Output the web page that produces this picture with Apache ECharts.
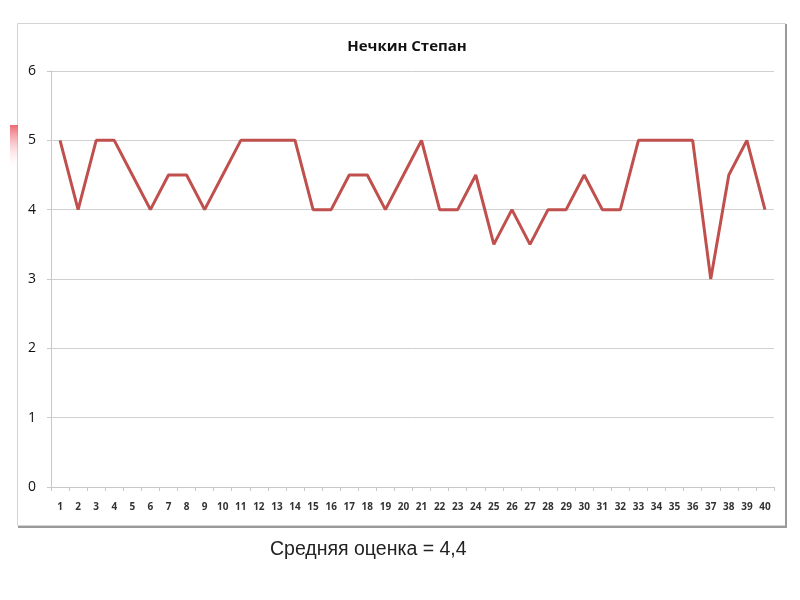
<!DOCTYPE html>
<html><head><meta charset="utf-8">
<script src="https://cdn.jsdelivr.net/npm/echarts@6/dist/echarts.min.js"></script>
<style>html,body{margin:0;padding:0;background:#fff}#c{width:800px;height:600px}</style>
</head><body><div id="c"></div>
<script>
const titleText = "Нечкин Степан";
const footerText = "Средняя оценка = 4,4";
const categories = ["1","2","3","4","5","6","7","8","9","10","11","12","13","14","15","16","17","18","19","20","21","22","23","24","25","26","27","28","29","30","31","32","33","34","35","36","37","38","39","40"];
const grades = [5,4,5,5,4.5,4,4.5,4.5,4,4.5,5,5,5,5,4,4,4.5,4.5,4,4.5,5,4,4,4.5,3.5,4,3.5,4,4,4.5,4,4,5,5,5,5,3,4.5,5,4];
const yTicks = [0,1,2,3,4,5,6];

const chart = echarts.init(document.getElementById('c'));
chart.setOption({
  animation:false,
  backgroundColor:'#fff',
  title:{text:titleText,left:402,textAlign:'center',top:34,textStyle:{fontFamily:'Open Sans',fontSize:15,fontWeight:'bold',color:'#111'}},
  graphic:[
    {type:'rect',shape:{x:17.5,y:23.5,width:768,height:502},style:{fill:'none',stroke:'#d4d4d4',lineWidth:1},z:-1},
    {type:'line',shape:{x1:786,y1:24,x2:786,y2:527},style:{stroke:'#9a9a9a',lineWidth:2}},
    {type:'line',shape:{x1:18,y1:527,x2:787,y2:527},style:{stroke:'#9a9a9a',lineWidth:2}},
    {type:'rect',shape:{x:10,y:125,width:8,height:42},style:{fill:new echarts.graphic.LinearGradient(0,0,0,1,[{offset:0,color:'rgba(235,90,100,0.9)'},{offset:1,color:'rgba(255,220,225,0)'}])}},
    {type:'text',left:270,top:540,style:{text:footerText,fontFamily:'Liberation Sans',fontSize:19.5,fill:'#222'}}
  ],
  grid:{left:51,right:26,top:71,bottom:113},
  xAxis:{type:'category',data:categories,boundaryGap:true,
    axisLine:{lineStyle:{color:'#c8c8c8'}},
    axisTick:{show:true,length:4,lineStyle:{color:'#c8c8c8'}},
    axisLabel:{fontFamily:'Open Sans',fontSize:10,fontWeight:'bold',color:'#333',margin:15,interval:0}},
  yAxis:{type:'value',min:0,max:6,interval:1,
    axisLine:{show:true,lineStyle:{color:'#c8c8c8'}},
    axisTick:{show:true,length:4,lineStyle:{color:'#c8c8c8'}},
    splitLine:{lineStyle:{color:'#d0d0d0'}},
    axisLabel:{fontFamily:'Open Sans',fontSize:14,fontWeight:500,color:'#111',margin:15,
      formatter:v=>yTicks.includes(v)?String(v):''}},
  series:[{type:'line',data:grades,symbol:'none',lineStyle:{color:'#c0504d',width:3},itemStyle:{color:'#c0504d'}}]
});
</script></body></html>
